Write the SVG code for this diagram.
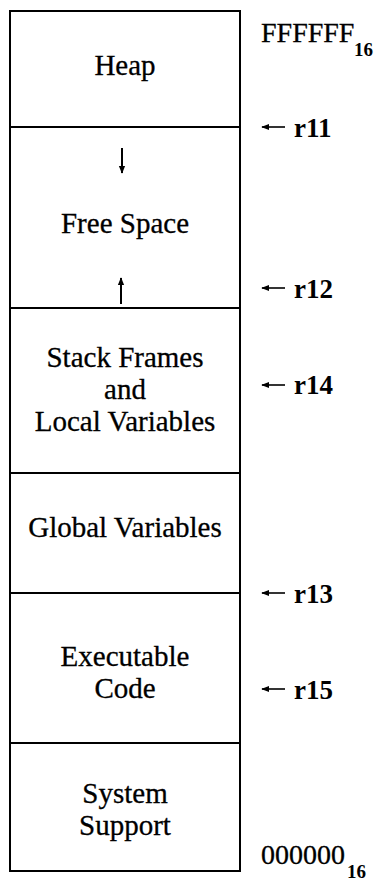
<svg xmlns="http://www.w3.org/2000/svg" width="385" height="881" viewBox="0 0 385 881">
  <style>
    .frame { fill: none; stroke: #000; stroke-width: 2; }
    .rule { stroke: #000; stroke-width: 2; }
    .lbl { font-family: "Liberation Serif", "Times New Roman", serif; font-size: 29px; fill: #000; stroke: #000; stroke-width: 0.3; text-anchor: middle; }
    .addr { font-family: "Liberation Serif", "Times New Roman", serif; font-size: 28px; fill: #000; stroke: #000; stroke-width: 0.3; }
    .sub { font-family: "Liberation Serif", "Times New Roman", serif; font-size: 19px; font-weight: bold; fill: #000; }
    .reg { font-family: "Liberation Serif", "Times New Roman", serif; font-size: 27px; font-weight: bold; fill: #000; }
    .ptr { stroke: #000; stroke-width: 1.6; fill: none; }
    .grow { stroke: #000; stroke-width: 2; fill: none; }
  </style>
  <defs>
    <marker id="tip" viewBox="0 0 10 10" refX="9" refY="5" markerWidth="8" markerHeight="8" orient="auto-start-reverse" markerUnits="userSpaceOnUse">
      <path d="M0,1 L10,5 L0,9 z" fill="#000"/>
    </marker>
  </defs>

  <!-- memory map outline -->
  <rect class="frame" x="10" y="11" width="230" height="860"/>

  <g id="heap">
    <text class="lbl" x="125" y="75">Heap</text>
  </g>
  <g id="free-space">
    <line class="rule" x1="10" y1="127" x2="240" y2="127"/>
    <text class="lbl" x="125" y="233">Free Space</text>
  </g>
  <g id="stack-frames">
    <line class="rule" x1="10" y1="308" x2="240" y2="308"/>
    <text class="lbl" x="125" y="367">Stack Frames</text>
    <text class="lbl" x="125" y="399">and</text>
    <text class="lbl" x="125" y="431">Local Variables</text>
  </g>
  <g id="global-variables">
    <line class="rule" x1="10" y1="473" x2="240" y2="473"/>
    <text class="lbl" x="125" y="537">Global Variables</text>
  </g>
  <g id="executable-code">
    <line class="rule" x1="10" y1="593" x2="240" y2="593"/>
    <text class="lbl" x="125" y="666">Executable</text>
    <text class="lbl" x="125" y="698">Code</text>
  </g>
  <g id="system-support">
    <line class="rule" x1="10" y1="743" x2="240" y2="743"/>
    <text class="lbl" x="125" y="803">System</text>
    <text class="lbl" x="125" y="835">Support</text>
  </g>

  <!-- address limits -->
  <g id="addr-top">
    <text class="addr" x="261" y="42">FFFFFF</text>
    <text class="sub" x="354" y="56">16</text>
  </g>
  <g id="addr-bottom">
    <text class="addr" x="261" y="864">000000</text>
    <text class="sub" x="347" y="878">16</text>
  </g>

  <!-- register labels -->
  <g id="r11"><text class="reg" x="294" y="137">r11</text></g>
  <g id="r12"><text class="reg" x="294" y="298">r12</text></g>
  <g id="r14"><text class="reg" x="294" y="394">r14</text></g>
  <g id="r13"><text class="reg" x="294" y="603">r13</text></g>
  <g id="r15"><text class="reg" x="294" y="699">r15</text></g>

  <g id="connectors">
    <!-- growth directions inside free space -->
    <line class="grow" x1="122" y1="148" x2="122" y2="173" marker-end="url(#tip)"/>
    <line class="grow" x1="121" y1="304" x2="121" y2="278" marker-end="url(#tip)"/>
    <!-- register pointers -->
    <line class="ptr" x1="285" y1="127" x2="262" y2="127" marker-end="url(#tip)"/>
    <line class="ptr" x1="285" y1="288" x2="262" y2="288" marker-end="url(#tip)"/>
    <line class="ptr" x1="285" y1="385" x2="262" y2="385" marker-end="url(#tip)"/>
    <line class="ptr" x1="285" y1="593" x2="262" y2="593" marker-end="url(#tip)"/>
    <line class="ptr" x1="285" y1="689" x2="262" y2="689" marker-end="url(#tip)"/>
  </g>
</svg>
